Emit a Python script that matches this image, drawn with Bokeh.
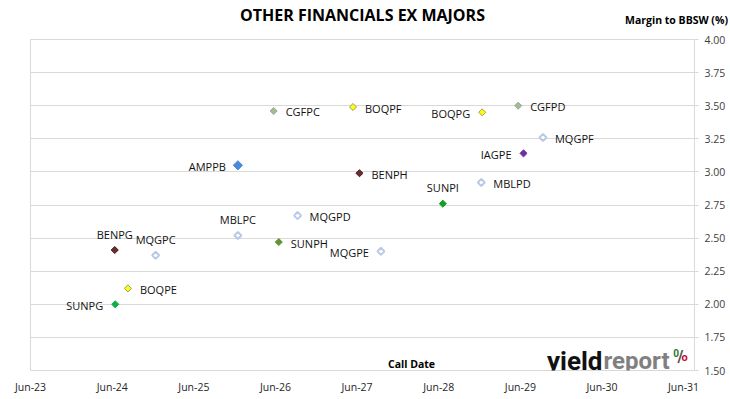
import math
import pandas as pd
from bokeh.plotting import figure
from bokeh.models import (ColumnDataSource, FixedTicker, DatetimeTickFormatter, Label,
                          Range1d, NumeralTickFormatter, LinearAxis)
from bokeh.embed import file_html
from bokeh.resources import INLINE
from bokeh.core.properties import value

# ---------------- data ----------------
names = ["SUNPG", "BOQPE", "BENPG", "MQGPC", "MBLPC", "AMPPB", "SUNPH", "CGFPC", "MQGPD",
         "BOQPF", "BENPH", "MQGPE", "SUNPI", "MBLPD", "BOQPG", "CGFPD", "IAGPE", "MQGPF"]
call_dates = ["2024-06-14", "2024-08-10", "2024-06-12", "2024-12-12", "2025-12-15", "2025-12-15",
              "2026-06-16", "2026-05-24", "2026-09-08", "2027-05-14", "2027-06-12", "2027-09-16",
              "2028-06-19", "2028-12-08", "2028-12-12", "2029-05-22", "2029-06-15", "2029-09-10"]
margins = [2.00, 2.12, 2.41, 2.37, 2.52, 3.05, 2.47, 3.46, 2.67,
           3.49, 2.99, 2.40, 2.76, 2.92, 3.45, 3.50, 3.14, 3.26]
x_tick_dates = ["2023-06-01", "2024-06-01", "2025-06-01", "2026-06-01", "2027-06-01",
                "2028-06-01", "2029-06-01", "2030-06-01", "2031-06-01"]
y_ticks = [1.50, 1.75, 2.00, 2.25, 2.50, 2.75, 3.00, 3.25, 3.50, 3.75, 4.00]
title_text = "OTHER FINANCIALS EX MAJORS"
y_title_text = "Margin to BBSW (%)"
x_title_text = "Call Date"

# ---------------- styles ----------------
# (fill, line, size, line_width)
style = {
    "SUNPG": ("#0FAE48", "#0FAE48", 5, 1),
    "SUNPI": ("#14A01E", "#14A01E", 5, 1),
    "SUNPH": ("#62923A", "#62923A", 5, 1),
    "BOQPE": ("#FFFF00", "#9A9A7A", 5, 1),
    "BOQPF": ("#FFFF00", "#9A9A7A", 5, 1),
    "BOQPG": ("#FFFF00", "#9A9A7A", 5, 1),
    "BENPG": ("#6E2B2B", "#3F1A1A", 5, 1),
    "BENPH": ("#6E2B2B", "#3F1A1A", 5, 1),
    "MQGPC": ("#FFFFFF", "#B9CAE6", 5, 2),
    "MQGPD": ("#FFFFFF", "#B9CAE6", 5, 2),
    "MQGPE": ("#FFFFFF", "#B9CAE6", 5, 2),
    "MQGPF": ("#FFFFFF", "#B9CAE6", 5, 2),
    "MBLPC": ("#FFFFFF", "#B9CAE6", 5, 2),
    "MBLPD": ("#FFFFFF", "#B9CAE6", 5, 2),
    "AMPPB": ("#4A88D8", "#4A88D8", 6.5, 1),
    "CGFPC": ("#A8BE7C", "#8BA6C6", 5, 1),
    "CGFPD": ("#A8BE7C", "#8BA6C6", 5, 1),
    "IAGPE": ("#7030A0", "#7030A0", 5, 1),
}
label_side = {
    "SUNPG": "left", "BOQPE": "right", "BENPG": "above", "MQGPC": "above", "MBLPC": "above",
    "AMPPB": "left", "SUNPH": "right", "CGFPC": "right", "MQGPD": "right", "BOQPF": "right",
    "BENPH": "right", "MQGPE": "left", "SUNPI": "above", "MBLPD": "right", "BOQPG": "left",
    "CGFPD": "right", "IAGPE": "left", "MQGPF": "right",
}
side_fmt = {"left": (-12, 1, "right"), "right": (12, 1, "left"), "above": (0, -16, "center")}

FONT = "Open Sans"
x_vals = pd.to_datetime(call_dates)

W, H = 730, 399
FL, FR, FT, FB = 30, 694, 39, 370   # frame edges in page pixels

p = figure(width=W, height=H, output_backend="svg", toolbar_location=None,
           x_axis_type="datetime", y_axis_location="right",
           min_border_left=FL, min_border_right=W - FR, min_border_top=FT,
           min_border_bottom=H - FB)
p.x_range = Range1d(pd.Timestamp("2023-06-01"), pd.Timestamp("2031-07-20"))
p.y_range = Range1d(1.5, 4.0)
p.outline_line_color = "#D9D9D9"
p.background_fill_color = "white"
p.border_fill_color = "white"

p.xgrid.grid_line_color = None
p.ygrid.grid_line_color = "#D9D9D9"
p.ygrid.ticker = FixedTicker(ticks=y_ticks)

xa = p.xaxis[0]
xa.ticker = FixedTicker(ticks=[pd.Timestamp(d).value / 1e6 for d in x_tick_dates])
fmt = "%b-%y"
xa.formatter = DatetimeTickFormatter(milliseconds=fmt, seconds=fmt, minsec=fmt, minutes=fmt,
                                     hourmin=fmt, hours=fmt, days=fmt, months=fmt, years=fmt)
xa.axis_line_color = None
xa.major_tick_line_color = None
xa.major_tick_out = 0
xa.major_tick_in = 0
xa.minor_tick_line_color = None
xa.minor_tick_out = 0
xa.major_label_standoff = 9
xa.major_label_text_font = FONT
xa.major_label_text_font_size = "10.5px"
xa.major_label_text_color = "#262626"

ya = p.yaxis[0]
ya.ticker = FixedTicker(ticks=y_ticks)
ya.formatter = NumeralTickFormatter(format="0.00")
ya.axis_line_color = "#D9D9D9"
ya.major_tick_line_color = "#D9D9D9"
ya.major_tick_in = 0
ya.major_tick_out = 4
ya.minor_tick_line_color = None
ya.minor_tick_out = 0
ya.major_label_standoff = 6
ya.major_label_text_font = FONT
ya.major_label_text_font_size = "10.5px"
ya.major_label_text_color = "#404040"

# header axis (above): carries the chart title and the y-axis title in the top margin
p.extra_x_ranges = {"hdr": Range1d(FL, FR)}
hdr = LinearAxis(x_range_name="hdr", ticker=FixedTicker(ticks=[676]),
                 major_label_overrides={676: y_title_text},
                 axis_label=title_text)
hdr.axis_line_color = None
hdr.major_tick_line_color = None
hdr.major_tick_in = 0
hdr.major_tick_out = 0
hdr.minor_tick_line_color = None
hdr.minor_tick_in = 0
hdr.minor_tick_out = 0
hdr.major_label_standoff = 13
hdr.major_label_text_font = FONT
hdr.major_label_text_font_size = "10.5px"
hdr.major_label_text_font_style = "bold"
hdr.major_label_text_color = "#000000"
hdr.axis_label_standoff = -16
hdr.axis_label_text_font = FONT
hdr.axis_label_text_font_size = "16px"
hdr.axis_label_text_font_style = "bold"
hdr.axis_label_text_color = "#000000"
p.add_layout(hdr, "above")

src = ColumnDataSource(dict(
    x=x_vals, y=margins, name=names,
    fill=[style[n][0] for n in names], line=[style[n][1] for n in names],
    size=[style[n][2] for n in names], lw=[style[n][3] for n in names],
))
p.scatter(x="x", y="y", source=src, marker="square", angle=math.pi / 4, size="size",
          fill_color="fill", line_color="line", line_width="lw")

for side, (xo, yo, align) in side_fmt.items():
    idx = [i for i, n in enumerate(names) if label_side[n] == side]
    s = ColumnDataSource(dict(x=[x_vals[i] for i in idx], y=[margins[i] for i in idx],
                              t=[names[i] for i in idx]))
    p.text(x="x", y="y", text="t", source=s, x_offset=xo, y_offset=yo, text_align=align,
           text_baseline="middle", text_font=value(FONT), text_font_size="11px",
           text_color="#111111")


def lab(text, x, y, size, bold=True, color="#000000", align="left", font=FONT,
        baseline="middle"):
    # x, y in page pixels (canvas units: y measured from the top)
    p.add_layout(Label(x=x, y=y, x_units="canvas", y_units="canvas", text=text,
                       text_font=font, text_font_size=size, text_align=align,
                       text_baseline=baseline, text_color=color,
                       text_font_style="bold" if bold else "normal"))


lab(x_title_text, 411, 363, "10.5px", align="center")

# logo
lab("yield", 602, 360, "26px", color="#111111", align="right", font="Roboto",
    baseline="alphabetic")
lab("report", 603, 360, "24px", color="#808080", align="left", font="Roboto",
    baseline="alphabetic")
lab("/", 680, 356, "16px", color="#555555", align="center", font="Roboto")
lab("0", 675.5, 352, "10px", color="#1E7A3C", align="center", font="Roboto")
lab("o", 684, 357, "11px", color="#C8102E", align="center", font="Roboto")

open("out.html", "w").write(file_html(p, INLINE))
